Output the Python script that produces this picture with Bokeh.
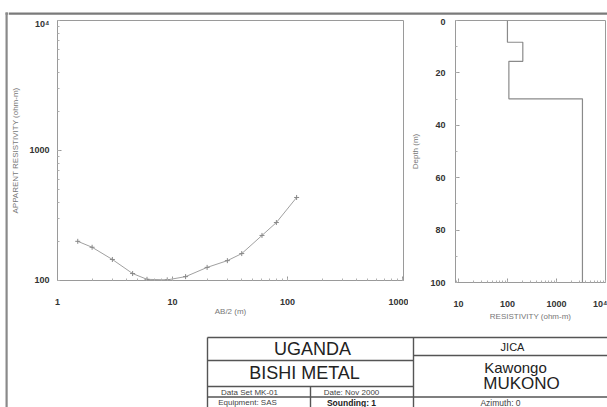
from bokeh.plotting import figure
from bokeh.layouts import row, column
from bokeh.models import Range1d, CustomJSTickFormatter, SingleIntervalTicker
from bokeh.core.properties import value
from bokeh.embed import file_html
from bokeh.resources import INLINE

# ---------------- data ----------------
# Sounding curve: AB/2 (m) vs apparent resistivity (ohm-m)
ab2 = [1.5, 2, 3, 4.5, 6, 9, 13, 20, 30, 40, 60, 80, 120]
app_res = [200, 180, 145, 113, 102, 101, 107, 126, 142, 161, 222, 279, 435]

# Layered model: resistivity (ohm-m) and layer top depth (m)
layer_res = [100, 206, 107, 3400]
layer_top = [0, 8.3, 15.6, 29.9]
model_bottom = 100

# Title block texts
block_big = ["UGANDA", "BISHI METAL"]
block_small = ["Data Set MK-01", "Date: Nov 2000", "Equipment: SAS"]
block_sounding = ["Sounding: 1"]
block_org = ["JICA"]
block_place1 = ["Kawongo"]
block_place2 = ["MUKONO"]
block_azimuth = ["Azimuth: 0"]

FONT = "Liberation Sans"
AX = "#9a9a9a"

LOG_LABELS = CustomJSTickFormatter(code="""
if (Math.abs(tick - 10000) < 1) { return "10\u2074"; }
return tick.toFixed(0);
""")


def blank(p):
    p.grid.visible = False
    p.background_fill_color = "white"
    p.border_fill_color = "white"


def style_axis(ax, standoff, title_standoff):
    ax.axis_line_color = AX
    ax.major_tick_line_color = AX
    ax.minor_tick_line_color = "#b0b0b0"
    ax.major_tick_in = 4
    ax.major_tick_out = 0
    ax.minor_tick_in = 2
    ax.minor_tick_out = 0
    ax.major_label_text_font = FONT
    ax.major_label_text_font_size = "9px"
    ax.major_label_text_font_style = "bold"
    ax.major_label_text_color = "#333333"
    ax.major_label_standoff = standoff
    ax.axis_label_text_font = FONT
    ax.axis_label_text_font_size = "8px"
    ax.axis_label_text_font_style = "normal"
    ax.axis_label_text_color = "#777777"
    ax.axis_label_standoff = title_standoff


# ---------------- left: sounding curve ----------------
p1 = figure(frame_width=346, frame_height=260, x_axis_type="log", y_axis_type="log",
            x_range=Range1d(1, 1020), y_range=Range1d(99.9, 10010),
            output_backend="svg", toolbar_location=None,
            min_border_left=49, min_border_right=5,
            min_border_top=2, min_border_bottom=40)
blank(p1)
p1.outline_line_color = AX
p1.xaxis.axis_label = "AB/2 (m)"
p1.yaxis.axis_label = "APPARENT RESISTIVITY (ohm-m)"
p1.xaxis.formatter = LOG_LABELS
p1.yaxis.formatter = LOG_LABELS
style_axis(p1.xaxis[0], 18, -1)
style_axis(p1.yaxis[0], 8, 6)
p1.line(ab2, app_res, line_color="#a0a0a0", line_width=1)
p1.scatter(ab2, app_res, marker="cross", size=5, line_color="#888888")

# ---------------- right: layered model ----------------
p2 = figure(frame_width=150, frame_height=262, x_axis_type="log",
            x_range=Range1d(8.7, 10050), y_range=Range1d(100, 0),
            output_backend="svg", toolbar_location=None,
            min_border_left=47, min_border_right=2,
            min_border_top=2, min_border_bottom=38)
blank(p2)
p2.outline_line_color = AX
p2.xaxis.axis_label = "RESISTIVITY (ohm-m)"
p2.yaxis.axis_label = "Depth (m)"
p2.xaxis.formatter = LOG_LABELS
p2.yaxis.ticker = SingleIntervalTicker(interval=20, num_minor_ticks=2)
style_axis(p2.xaxis[0], 16, 0)
style_axis(p2.yaxis[0], 10, 7)

step_x, step_y = [], []
bounds = layer_top[1:] + [model_bottom]
for r, top_d, bot_d in zip(layer_res, layer_top, bounds):
    step_x += [r, r]
    step_y += [top_d, bot_d]
p2.line(step_x, step_y, line_color="#8a8a8a", line_width=1.2)

# ---------------- decorations: page border ----------------
deco = figure(width=8, height=407, x_range=Range1d(0, 8), y_range=Range1d(407, 0),
              output_backend="svg", toolbar_location=None, min_border=0,
              x_axis_location=None, y_axis_location=None)
blank(deco)
deco.outline_line_color = None
deco.quad(left=[5, 5], right=[7.2, 8], top=[12, 12], bottom=[407, 14.2],
          fill_color="#8a8a8a", line_color=None)

top = figure(width=599, height=18, x_range=Range1d(8, 607), y_range=Range1d(18, 0),
             output_backend="svg", toolbar_location=None, min_border=0,
             x_axis_location=None, y_axis_location=None)
blank(top)
top.outline_line_color = None
top.segment(x0=[8], y0=[13.1], x1=[607], y1=[13.1], line_color="#7a7a7a", line_width=2.2)

# ---------------- title block ----------------
tb = figure(width=599, height=87, x_range=Range1d(8, 607), y_range=Range1d(407, 320),
            output_backend="svg", toolbar_location=None, min_border=0,
            x_axis_location=None, y_axis_location=None)
blank(tb)
tb.outline_line_color = None
hx0 = [207, 207, 207, 207, 413]
hx1 = [607, 413, 413, 607, 607]
hy = [334, 357, 383, 393.5, 352]
tb.segment(x0=hx0, y0=hy, x1=hx1, y1=hy, line_color="#555555", line_width=1.4)
vx = [207, 413, 310]
vy0 = [334, 334, 383]
vy1 = [407, 407, 407]
tb.segment(x0=vx, y0=vy0, x1=vx, y1=vy1, line_color="#555555", line_width=1.4)


def txt(xs, ys, texts, size, style="normal", color="#222222"):
    tb.text(x=xs, y=ys, text=texts, text_font=value(FONT), text_font_size=value(size),
            text_font_style=style, text_align="center", text_baseline="middle",
            text_color=color)


txt([312, 304], [345.5, 369.5], block_big, "18px")
txt([249, 351], [388.5, 388.5], block_small[:2], "8px", color="#444444")
txt([247], [399], block_small[2:], "8px", color="#444444")
txt([351], [399], block_sounding, "8.5px", style="bold")
txt([512], [343.5], block_org, "11px")
txt([515], [363.5], block_place1, "15px")
txt([521], [379.5], block_place2, "17px")
txt([500], [399], block_azimuth, "8.5px", color="#444444")

root = row(deco, column(top, row(p1, p2), tb))

open("out.html", "w").write(file_html(root, INLINE))
